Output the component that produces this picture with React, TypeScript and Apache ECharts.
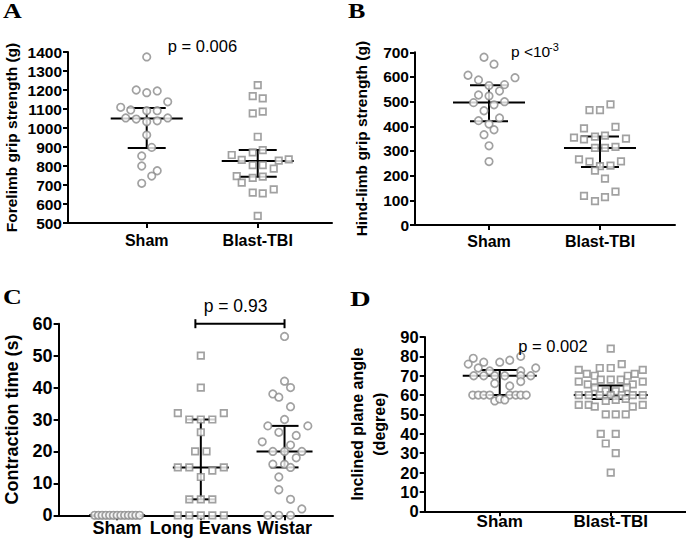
import React, { useEffect, useRef } from 'react';
import * as echarts from 'echarts';

// ---------- data ----------
const catsAB = ['Sham', 'Blast-TBI'];
const catsC = ['Sham', 'Long Evans', 'Wistar'];

// Panel A: forelimb grip strength (g)
const aShamValues = [1374, 1200, 1186, 1195, 1138, 1109, 1095, 1091, 1091, 1053, 1047, 1033, 1038, 1053, 963, 898, 853, 800, 775, 747, 709];
const aShamJitter = [0, -10.5, 0, 10.5, 21, -26, -16, 0, 10.5, -21, -10.5, 0, 10.5, 21, 0, 5, -5, -5, 10.5, 5, -5];
const aBlastValues = [1226, 1168, 1156, 1077, 1086, 954, 872, 884, 858, 832, 805, 805, 828, 835, 786, 747, 712, 738, 744, 660, 656, 677, 538];
const aBlastJitter = [0, -5, 5, -5, 5, 0, -5, 5, -26, -16, -5, 5, 21, 31, 16, -21, -16, -5, 5, -5, 5, 16, 0];
const aStats = [[1, 1050, 895, 1105], [2, 826, 744, 884]]; // [group, median, q1, q3]

// Panel B: hind-limb grip strength (g)
const bShamValues = [680, 652, 607, 588, 597, 565, 569, 543, 527, 523, 496, 487, 500, 463, 434, 423, 409, 386, 366, 321, 257];
const bShamJitter = [-5, 5, -21, -10.5, 26, 0, 15.5, 10.5, -10.5, 0, -15.5, 5, 15.5, -5, 10.5, -10.5, 0, 5, -5, 0, 0];
const bBlastValues = [466, 466, 489, 392, 398, 354, 347, 358, 362, 350, 313, 313, 317, 266, 257, 239, 241, 258, 220, 188, 118, 97, 113, 135];
const bBlastJitter = [-10.5, 0, 10.5, -16, 15.5, -26, -16, -5, 5, 26, -5, 5, 15.5, -21, -10.5, 0, 10.5, 21, -5, 5, -16, -5, 5, 15.5];
const bStats = [[1, 497, 421, 566], [2, 312, 235, 359]];

// Panel C: contraction time (s)
const cShamValues = [0, 0, 0, 0, 0, 0, 0, 0, 0, 0, 0, 0, 0];
const cShamJitter = [-22.5, -18.75, -15, -11.25, -7.5, -3.75, 0, 3.75, 7.5, 11.25, 15, 18.75, 22.5];
const cLEValues = [50, 40, 32, 32, 30, 30, 30, 26, 20, 20, 15, 15, 15, 14, 12, 5, 5, 5, 0, 0, 0, 0, 0];
const cLEJitter = [0, 0, -23, 23, -11.5, 0, 11.5, 0, -5.7, 5.7, -23, -11.5, 23, 11.5, 0, -11.5, 0, 11.5, -23, -11.5, 0, 11.5, 23];
const cWValues = [56, 42, 40, 38, 37, 34, 30, 28, 28, 26, 25, 23, 22, 20, 20, 20, 18, 16, 16, 15, 12, 8, 5, 2, 0, 0, 0];
const cWJitter = [0, 0, 6, -11.7, -5.7, 6, 0, -16.7, 23.3, -5.7, 11.7, -22.3, 6, -11.7, 0, 17.3, 11.7, -11.7, 0, 6, -5.7, -5.7, 6, 17.3, -16.7, -5.7, 6];
const cStats = [[1, 0, 0, 0], [2, 15, 5, 30], [3, 20, 15, 28]];
const cBracket = [[1.935, 3, 60]]; // [from group, to group, level]

// Panel D: inclined plane angle (degree)
const dShamValues = [79, 76, 77, 77, 78, 80, 74, 72.5, 74, 72.5, 70, 70, 70, 70, 70, 70, 66, 64.7, 67, 60, 60, 60, 60, 60, 60, 60, 60, 57, 58, 57.5];
const dShamJitter = [-26.5, -31.5, -16, 0, 10, 21, -21.5, -10, 36, 21, -26, -16, -5, 5, 21, 31, -5, 10, 21, -27, -21.5, -16, -10, 10, 16, 21, 26.5, -5, 0, 5];
const dBlastValues = [84, 76, 74, 74, 73, 73, 71, 70, 70, 71, 67, 65.5, 68, 68, 68, 65.5, 67, 64, 64, 62, 62, 60, 60, 60, 60, 60, 60, 60, 55, 55, 54, 54, 55, 57, 57.5, 58, 50, 50, 50, 40, 40, 35, 30, 20];
const dBlastJitter = [0, 11, -11, 0, -32, 32, -24, -16, 17, 24, -32, -23, -10, 0, 10, 22, 32, -16, 16, -5, 5, -32, -22, -11, 0, 11, 22, 32, -32, -22, -16, 22, 32, -5, 5, 15, -5, 5, 15, -10, 5, -5, 5, 0];
const dStats = [[1, 70, 60, 73], [2, 60, 58, 65]];

// ---------- styling ----------
const SANS = '"Liberation Sans", Arial, Helvetica, sans-serif';
const SERIF = '"Liberation Serif", "Times New Roman", serif';
const GRAY = '#8a8a8a';

function scatter(idx: number, cat: number, values: number[], jitter: number[], symbol: string, size: number) {
  return {
    type: 'scatter',
    xAxisIndex: idx,
    yAxisIndex: idx,
    clip: false,
    symbol,
    symbolSize: size,
    itemStyle: { color: '#ffffff', borderColor: GRAY, borderWidth: 1.7 },
    data: values.map((v, i) => ({ value: [cat, v], symbolOffset: [jitter[i], 0] })),
    silent: true,
    z: 4,
  };
}

function errorBars(idx: number, rows: number[][], wide: number, narrow: number) {
  return {
    type: 'custom',
    xAxisIndex: idx,
    yAxisIndex: idx,
    clip: false,
    silent: true,
    z: 3,
    data: rows,
    renderItem: (_p: any, api: any) => {
      const x = api.value(0);
      const m = api.coord([x, api.value(1)]);
      const lo = api.coord([x, api.value(2)]);
      const hi = api.coord([x, api.value(3)]);
      const st = { stroke: '#000', lineWidth: 2 };
      return {
        type: 'group',
        children: [
          { type: 'line', shape: { x1: m[0] - wide, y1: m[1], x2: m[0] + wide, y2: m[1] }, style: st },
          { type: 'line', shape: { x1: lo[0] - narrow, y1: lo[1], x2: lo[0] + narrow, y2: lo[1] }, style: st },
          { type: 'line', shape: { x1: hi[0] - narrow, y1: hi[1], x2: hi[0] + narrow, y2: hi[1] }, style: st },
          { type: 'line', shape: { x1: lo[0], y1: lo[1], x2: hi[0], y2: hi[1] }, style: st },
        ],
      };
    },
  };
}

function bracket(idx: number, rows: number[][]) {
  return {
    type: 'custom',
    xAxisIndex: idx,
    yAxisIndex: idx,
    clip: false,
    silent: true,
    z: 3,
    data: rows,
    renderItem: (_p: any, api: any) => {
      const a = api.coord([api.value(0), api.value(2)]);
      const b = api.coord([api.value(1), api.value(2)]);
      const st = { stroke: '#000', lineWidth: 2 };
      return {
        type: 'group',
        children: [
          { type: 'line', shape: { x1: a[0], y1: a[1], x2: b[0], y2: b[1] }, style: st },
          { type: 'line', shape: { x1: a[0], y1: a[1] - 4.5, x2: a[0], y2: a[1] + 4.5 }, style: st },
          { type: 'line', shape: { x1: b[0], y1: b[1] - 4.5, x2: b[0], y2: b[1] + 4.5 }, style: st },
        ],
      };
    },
  };
}

function xAxis(idx: number, min: number, max: number, cats: string[], size: number, margin: number) {
  const vals = cats.map((_, i) => i + 1);
  return {
    type: 'value',
    gridIndex: idx,
    min,
    max,
    splitLine: { show: false },
    axisLine: { show: true, onZero: false, lineStyle: { color: '#000', width: 2 } },
    axisTick: { show: true, customValues: vals, length: 5, lineStyle: { color: '#000', width: 2 } },
    axisLabel: {
      customValues: vals,
      formatter: (v: number) => cats[Math.round(v) - 1] ?? '',
      margin,
      color: '#000',
      fontFamily: SANS,
      fontWeight: 'bold',
      fontSize: size,
    },
  };
}

function yAxis(idx: number, min: number, max: number, interval: number, name: string, nameGap: number, size: number, nameSize: number, lineHeight?: number) {
  return {
    type: 'value',
    gridIndex: idx,
    min,
    max,
    interval,
    name,
    nameLocation: 'middle',
    nameGap,
    nameRotate: 90,
    nameTextStyle: { color: '#000', fontFamily: SANS, fontWeight: 'bold', fontSize: nameSize, lineHeight: lineHeight ?? nameSize * 1.2 },
    splitLine: { show: false },
    axisLine: { show: true, onZero: false, lineStyle: { color: '#000', width: 2 } },
    axisTick: { show: true, length: 5, lineStyle: { color: '#000', width: 2 } },
    axisLabel: {
      margin: 6,
      color: '#000',
      fontFamily: SANS,
      fontWeight: 'bold',
      fontSize: size,
      formatter: (v: number) => String(v),
    },
  };
}

function letter(t: string, x: number, y: number, size: number) {
  return {
    type: 'text',
    x,
    y,
    scaleX: 1.3,
    silent: true,
    style: { text: t, fill: '#000', font: `bold ${size}px ${SERIF}`, align: 'left', verticalAlign: 'top' },
  };
}

function ptext(t: string, x: number, y: number, size: number, align = 'center') {
  return {
    type: 'text',
    x,
    y,
    silent: true,
    z: 10,
    style: { text: t, fill: '#000', font: `${size}px ${SANS}`, align, verticalAlign: 'middle' },
  };
}

export default function App() {
  const ref = useRef<HTMLDivElement>(null);
  useEffect(() => {
    if (!ref.current) return;
    const chart = echarts.init(ref.current, undefined, { renderer: 'svg' });
    chart.setOption({
      animation: false,
      backgroundColor: '#fff',
      grid: [
        { left: 68, top: 52, width: 264, height: 171 },
        { left: 415, top: 52.3, width: 260, height: 172.7 },
        { left: 51.7, top: 323.7, width: 281.3, height: 191.6 },
        { left: 424.7, top: 337, width: 261.3, height: 174.3 },
      ],
      xAxis: [
        xAxis(0, 0.291, 2.669, catsAB, 16, 9),
        xAxis(1, 0.333, 2.676, catsAB, 16, 8),
        xAxis(2, 0.301, 3.579, catsC, 18, 4),
        xAxis(3, 0.324, 2.678, catsAB, 17, 2),
      ],
      yAxis: [
        yAxis(0, 500, 1400, 100, 'Forelimb grip strength (g)', 47, 15.5, 15.5),
        yAxis(1, 0, 700, 100, 'Hind-limb grip strength (g)', 44.5, 15.5, 15.5),
        yAxis(2, 0, 60, 10, 'Contraction time (s)', 36, 18, 18),
        yAxis(3, 0, 90, 10, 'Inclined plane angle\n(degree)', 34, 16.5, 16, 22),
      ],
      series: [
        scatter(0, 1, aShamValues, aShamJitter, 'circle', 7.5),
        scatter(0, 2, aBlastValues, aBlastJitter, 'rect', 6.5),
        errorBars(0, aStats, 36, 19),
        scatter(1, 1, bShamValues, bShamJitter, 'circle', 7.5),
        scatter(1, 2, bBlastValues, bBlastJitter, 'rect', 6.5),
        errorBars(1, bStats, 36, 19),
        scatter(2, 1, cShamValues, cShamJitter, 'circle', 7.5),
        scatter(2, 2, cLEValues, cLEJitter, 'rect', 6.5),
        scatter(2, 3, cWValues, cWJitter, 'circle', 7.5),
        errorBars(2, cStats, 28, 14),
        bracket(2, cBracket),
        scatter(3, 1, dShamValues, dShamJitter, 'circle', 7.5),
        scatter(3, 2, dBlastValues, dBlastJitter, 'rect', 6.5),
        errorBars(3, dStats, 37, 19),
      ],
      graphic: [
        letter('A', 3, 1, 20),
        letter('B', 348, 1, 20),
        letter('C', 3, 287, 20),
        letter('D', 350, 288, 22),
        ptext('p = 0.006', 202.5, 46, 16.5),
        ptext('p <10', 511, 51.5, 15.5, 'left'),
        ptext('-3', 549, 46.5, 11, 'left'),
        ptext('p = 0.93', 235.5, 306, 17.5),
        ptext('p = 0.002', 553, 346, 16.5),
      ],
    });
    return () => chart.dispose();
  }, []);
  return <div ref={ref} style={{ position: 'fixed', left: 0, top: 0, width: 686, height: 545 }} />;
}
